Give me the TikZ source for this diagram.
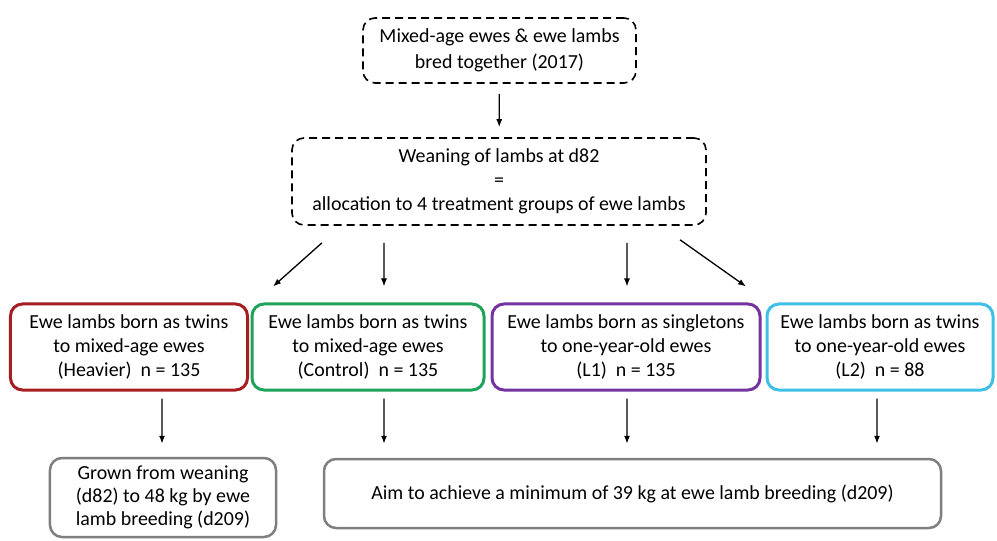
\documentclass[tikz,border=0pt]{standalone}
\usepackage{fontspec}
\setmainfont{Carlito}
\usetikzlibrary{arrows.meta}
\definecolor{heavyred}{HTML}{A61E22}
\definecolor{ctrlgreen}{HTML}{1FA25A}
\definecolor{lonepurple}{HTML}{7433A0}
\definecolor{ltwocyan}{HTML}{3EC0E4}
\definecolor{boxgray}{HTML}{7F7F7F}
\begin{document}
\begin{tikzpicture}[x=1bp,y=-1bp,
  font=\fontsize{20}{24}\selectfont,
  dashbox/.style={draw,dashed,dash pattern=on 8bp off 5bp,line width=1.6bp,
    rounded corners=12bp,align=center,inner sep=0pt},
  groupbox/.style={draw,line width=3bp,rounded corners=12bp,align=center,
    inner sep=0pt,minimum height=86bp},
  aimbox/.style={draw=boxgray,line width=2.5bp,rounded corners=12bp,
    align=center,inner sep=0pt},
  arr/.style={-{Latex[length=8bp,width=6bp]},line width=1.3bp}]
  \useasboundingbox[fill=white] (0,0) rectangle (997,541);

  % starting point and weaning
  \node[dashbox,minimum width=273bp,minimum height=65bp,font=\fontsize{20}{26}\selectfont]
    (bred) at (499.5,50.5) {Mixed-age ewes \& ewe lambs\\bred together (2017)};
  \node[dashbox,minimum width=414bp,minimum height=87bp]
    (wean) at (499,181.5) {Weaning of lambs at d82\\=\\allocation to 4 treatment groups of ewe lambs};

  % the four groups
  \node[groupbox,draw=heavyred,minimum width=237bp] (heavy) at (129,347)
    {Ewe lambs born as twins\\to mixed-age ewes\\(Heavier)\ \ n = 135};
  \node[groupbox,draw=ctrlgreen,minimum width=232bp] (ctrl) at (368,347)
    {Ewe lambs born as twins\\to mixed-age ewes\\(Control)\ \ n = 135};
  \node[groupbox,draw=lonepurple,minimum width=268bp] (lone) at (626,347)
    {Ewe lambs born as singletons\\to one-year-old ewes\\(L1)\ \ n = 135};
  \node[groupbox,draw=ltwocyan,minimum width=226bp] (ltwo) at (880,347)
    {Ewe lambs born as twins\\to one-year-old ewes\\(L2)\ \ n = 88};

  % targets
  \node[aimbox,minimum width=226bp,minimum height=79bp,font=\fontsize{20}{23}\selectfont]
    (grown) at (163,497.5) {Grown from weaning\\(d82) to 48 kg by ewe\\lamb breeding (d209)};
  \node[aimbox,minimum width=617bp,minimum height=69bp]
    (aim) at (632.5,493.5) {Aim to achieve a minimum of 39 kg at ewe lamb breeding (d209)};

  \draw[arr,shorten <=10bp,shorten >=10bp] (bred) -- (wean);

  \draw[arr] ([xshift=-177bp,yshift=-17bp]wean.south) -- ([xshift=144bp,yshift=16bp]heavy.north);
  \draw[arr,shorten <=17bp,shorten >=16bp] ([xshift=-115bp]wean.south) -- ([xshift=16bp]ctrl.north);
  \draw[arr,shorten <=17bp,shorten >=16bp] ([xshift=128bp]wean.south) -- ([xshift=1bp]lone.north);
  \draw[arr] ([xshift=181bp,yshift=-14bp]wean.south) -- ([xshift=-134bp,yshift=16bp]ltwo.north);

  \draw[arr,shorten <=7bp,shorten >=13bp] ([xshift=33bp]heavy.south) -- ([xshift=-1bp]grown.north);
  \draw[arr,shorten <=7bp,shorten >=14bp] ([xshift=16bp]ctrl.south) -- ([xshift=-248.5bp]aim.north);
  \draw[arr,shorten <=7bp,shorten >=14bp] ([xshift=1bp]lone.south) -- ([xshift=-5.5bp]aim.north);
  \draw[arr,shorten <=7bp,shorten >=14bp] ([xshift=-3bp]ltwo.south) -- ([xshift=244.5bp]aim.north);
\end{tikzpicture}
\end{document}
